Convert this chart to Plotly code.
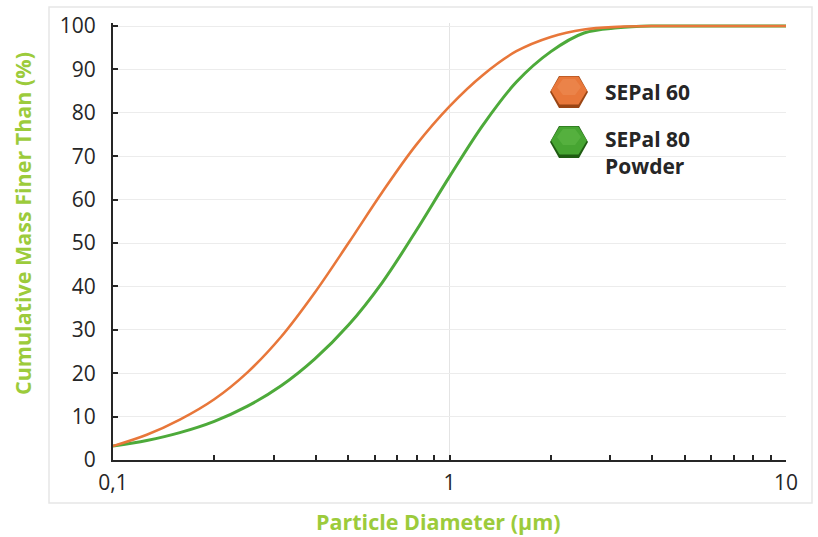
import plotly.graph_objects as go

# ---- data ----
diameter_um = [0.1, 0.126, 0.158, 0.2, 0.251, 0.316, 0.398, 0.501, 0.631, 0.794, 1.0, 1.26, 1.58,
               2.0, 2.51, 3.16, 3.98, 5.01, 6.31, 7.94, 10.0]
sepal60 = [3.2, 5.8, 9.3, 14.0, 20.2, 28.4, 38.6, 50.0, 61.7, 72.5, 81.5, 88.8, 94.2,
           97.5, 99.2, 99.8, 100, 100, 100, 100, 100]
sepal80 = [3.2, 4.5, 6.3, 8.9, 12.4, 17.1, 23.3, 31.1, 40.9, 52.7, 65.3, 77.3, 87.1,
           94.1, 98.4, 99.6, 100, 100, 100, 100, 100]
series_names = ["SEPal 60", "SEPal 80<br>Powder"]
y_ticks = [0, 10, 20, 30, 40, 50, 60, 70, 80, 90, 100]
x_ticks = [0.1, 1, 10]
x_ticktext = ["0,1", "1", "10"]
x_minor = [0.2, 0.3, 0.4, 0.5, 0.6, 0.7, 0.8, 0.9, 2, 3, 4, 5, 6, 7, 8, 9]

ORANGE = "#E8773A"
GREEN = "#4DAA3A"
TITLE_GREEN = "#9CCB3B"
DARK = "#262626"

W, H = 818, 537
L, R, T, B = 113, 32, 23, 77
PW, PH = W - L - R, H - T - B


def px(xp):
    return (xp - L) / PW


def py(yp):
    return (H - B - yp) / PH


fig = go.Figure()
fig.add_trace(go.Scatter(x=diameter_um, y=sepal80, mode="lines",
                         line=dict(color=GREEN, width=3, shape="spline", smoothing=1.0),
                         name="SEPal 80 Powder", showlegend=False))
fig.add_trace(go.Scatter(x=diameter_um, y=sepal60, mode="lines",
                         line=dict(color=ORANGE, width=2.6, shape="spline", smoothing=1.0),
                         name="SEPal 60", showlegend=False))

shapes = []
# outer light frame
shapes.append(dict(type="rect", xref="paper", yref="paper", x0=px(49), x1=px(812), y0=py(503), y1=py(7),
                   line=dict(color="#E6E6E6", width=1.5), layer="below"))


def hexagon(cx, cy, hw, hh, ind):
    pts = [(cx - hw, cy), (cx - hw + ind, cy - hh), (cx + hw - ind, cy - hh), (cx + hw, cy),
           (cx + hw - ind, cy + hh), (cx - hw + ind, cy + hh)]
    return "M " + " L ".join(f"{px(a):.5f},{py(b):.5f}" for a, b in pts) + " Z"


for cy, base, dark, light in [(92, "#E8773A", "#9A4514", "#F0925E"), (142, "#47A532", "#1F5C12", "#66BE4E")]:
    shapes.append(dict(type="path", xref="paper", yref="paper", path=hexagon(569, cy, 19, 16, 9),
                       fillcolor=dark, line=dict(width=0)))
    shapes.append(dict(type="path", xref="paper", yref="paper", path=hexagon(569, cy - 1.5, 18, 14, 8.5),
                       fillcolor=base, line=dict(width=0)))
    shapes.append(dict(type="path", xref="paper", yref="paper", path=hexagon(569, cy - 5, 12, 8, 6),
                       fillcolor=light, opacity=0.45, line=dict(width=0)))

annotations = [
    dict(text="<b>" + series_names[0] + "</b>", x=px(603), y=py(92), xref="paper", yref="paper",
         xanchor="left", yanchor="middle", showarrow=False, font=dict(size=21, color=DARK, family="Open Sans")),
    dict(text="<b>" + series_names[1] + "</b>", x=px(603), y=py(152), xref="paper", yref="paper",
         xanchor="left", yanchor="middle", align="left", showarrow=False,
         font=dict(size=21, color=DARK, family="Open Sans")),
    dict(text="<b>Particle Diameter (µm)</b>", x=px(438), y=py(521), xref="paper", yref="paper",
         xanchor="center", yanchor="middle", showarrow=False,
         font=dict(size=21.5, color=TITLE_GREEN, family="Open Sans")),
    dict(text="<b>Cumulative Mass Finer Than (%)</b>", x=px(23), y=py(224), xref="paper", yref="paper",
         xanchor="center", yanchor="middle", textangle=-90, showarrow=False,
         font=dict(size=21.5, color=TITLE_GREEN, family="Open Sans")),
]

fig.update_layout(
    width=W, height=H,
    margin=dict(l=L, r=R, t=T, b=B, autoexpand=False),
    paper_bgcolor="white", plot_bgcolor="white",
    showlegend=False,
    shapes=shapes,
    annotations=annotations,
    xaxis=dict(type="log", range=[-1, 1], tickvals=x_ticks, ticktext=x_ticktext,
               ticks="inside", ticklen=5, tickwidth=1.5, tickcolor=DARK,
               showline=True, linecolor=DARK, linewidth=2,
               showgrid=True, gridcolor="#E4E4E4", gridwidth=1,
               tickfont=dict(size=21, color=DARK, family="Open Sans"),
               ticklabelstandoff=3,
               minor=dict(tickvals=x_minor, ticks="inside", ticklen=5, tickwidth=1.5, tickcolor=DARK,
                          showgrid=False),
               zeroline=False),
    yaxis=dict(range=[0, 100.7], tickvals=y_ticks, ticks="inside", ticklen=5, tickwidth=1.5, tickcolor=DARK,
               showline=True, linecolor=DARK, linewidth=2,
               showgrid=True, gridcolor="#ECECEC", gridwidth=1,
               tickfont=dict(size=21, color=DARK, family="Open Sans"),
               ticklabelstandoff=11,
               zeroline=False),
)

fig.write_html("out.html", config={"displayModeBar": False},
               post_script="document.body.style.margin='0';document.body.style.overflow='hidden';")
